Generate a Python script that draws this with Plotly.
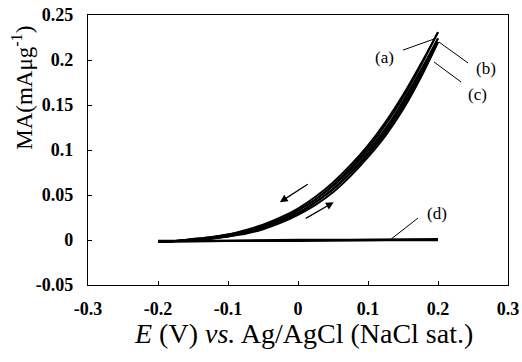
import plotly.graph_objects as go

# ---- data ----
E = [-0.2, -0.175, -0.15, -0.125, -0.1, -0.075, -0.05, -0.025, 0.0,
     0.025, 0.05, 0.075, 0.1, 0.125, 0.15, 0.175, 0.2]
a_fwd = [-0.002, -0.001, 0.000, 0.002, 0.005, 0.009, 0.015, 0.023, 0.033,
         0.045, 0.061, 0.080, 0.102, 0.128, 0.158, 0.193, 0.231]
a_rev = [-0.002, -0.001, 0.001, 0.003, 0.006, 0.011, 0.017, 0.025, 0.035,
         0.048, 0.064, 0.083, 0.105, 0.131, 0.161, 0.195, 0.231]
b_fwd = [-0.002, -0.001, 0.000, 0.002, 0.004, 0.008, 0.014, 0.021, 0.030,
         0.042, 0.057, 0.075, 0.096, 0.121, 0.151, 0.185, 0.224]
b_rev = [-0.002, -0.001, 0.001, 0.003, 0.006, 0.010, 0.016, 0.023, 0.033,
         0.045, 0.060, 0.078, 0.099, 0.124, 0.154, 0.188, 0.224]
c_fwd = [-0.002, -0.001, 0.000, 0.001, 0.004, 0.007, 0.012, 0.019, 0.028,
         0.039, 0.053, 0.071, 0.092, 0.116, 0.145, 0.180, 0.220]
c_rev = [-0.002, -0.001, 0.000, 0.002, 0.005, 0.009, 0.014, 0.021, 0.030,
         0.042, 0.056, 0.074, 0.095, 0.119, 0.148, 0.182, 0.220]
E_d = [-0.2, -0.1, 0.0, 0.1, 0.2]
d_fwd = [-0.002, -0.001, -0.001, 0.000, 0.000]
d_rev = [-0.001, -0.001, 0.000, 0.000, 0.001]

x_ticks = [-0.3, -0.2, -0.1, 0.0, 0.1, 0.2, 0.3]
x_ticktext = ["-0.3", "-0.2", "-0.1", "0", "0.1", "0.2", "0.3"]
y_ticks = [-0.05, 0.0, 0.05, 0.1, 0.15, 0.2, 0.25]
y_ticktext = ["-0.05", "0", "0.05", "0.1", "0.15", "0.2", "0.25"]

labels = ["(a)", "(b)", "(c)", "(d)"]

FONT = "Liberation Serif"

fig = go.Figure()
for ys in [c_fwd, c_rev, b_fwd, b_rev, a_fwd, a_rev]:
    fig.add_trace(go.Scatter(x=E, y=ys, mode="lines", line=dict(color="black", width=2.0, shape="spline"),
                             showlegend=False, hoverinfo="skip"))
for ys in [d_fwd, d_rev]:
    fig.add_trace(go.Scatter(x=E_d, y=ys, mode="lines", line=dict(color="black", width=2.4),
                             showlegend=False, hoverinfo="skip"))

ann = []
lab_pos = [(0.123, 0.203), (0.269, 0.191), (0.257, 0.162), (0.199, 0.029)]
for t, (lx, ly) in zip(labels, lab_pos):
    ann.append(dict(x=lx, y=ly, xref="x", yref="y", text=t, showarrow=False,
                    xanchor="center", yanchor="middle",
                    font=dict(family=FONT, size=17, color="black")))
ann.append(dict(x=-0.026, y=0.042, ax=0.016, ay=0.063, xref="x", yref="y", axref="x", ayref="y",
                text="", showarrow=True, arrowhead=2, arrowsize=1.2, arrowwidth=1.3, arrowcolor="black"))
ann.append(dict(x=0.051, y=0.042, ax=0.009, ay=0.023, xref="x", yref="y", axref="x", ayref="y",
                text="", showarrow=True, arrowhead=2, arrowsize=1.2, arrowwidth=1.3, arrowcolor="black"))
ann.append(dict(x=-0.155, y=0.73, xref="paper", yref="paper", text="MA(mAμg<sup>-1</sup>)",
                textangle=-90, showarrow=False, xanchor="center", yanchor="middle",
                font=dict(family=FONT, size=23, color="black")))
ann.append(dict(x=0.514, y=-0.178, xref="paper", yref="paper",
                text="<i>E</i> (V) <i>vs.</i> Ag/AgCl (NaCl sat.)",
                showarrow=False, xanchor="center", yanchor="middle",
                font=dict(family=FONT, size=28, color="black")))
fig.update_layout(annotations=ann)

leaders = [((0.150, 0.211), (0.1943, 0.2233)),
           ((0.2014, 0.220), (0.2429, 0.1967)),
           ((0.1943, 0.1978), (0.2329, 0.1756)),
           ((0.1314, 0.0), (0.1714, 0.0244))]
for (x0, y0), (x1, y1) in leaders:
    fig.add_shape(type="line", x0=x0, y0=y0, x1=x1, y1=y1, xref="x", yref="y",
                  line=dict(color="black", width=1))

axis_common = dict(showline=True, linecolor="black", linewidth=1.2, mirror=True,
                   ticks="inside", ticklen=4, tickcolor="black", showgrid=False, zeroline=False,
                   tickfont=dict(family=FONT, size=18, color="black"))
fig.update_xaxes(range=[-0.3, 0.3], tickvals=x_ticks,
                 ticktext=["<b>" + t + "</b>" for t in x_ticktext], ticklabelstandoff=7, **axis_common)
fig.update_yaxes(range=[-0.05, 0.25], tickvals=y_ticks,
                 ticktext=["<b>" + t + "</b>" for t in y_ticktext], ticklabelstandoff=10, **axis_common)

fig.update_layout(width=522, height=362, margin=dict(l=88, r=14, t=15, b=77, autoexpand=False),
                  plot_bgcolor="white", paper_bgcolor="white", showlegend=False,
                  font=dict(family=FONT))

fig.write_html("out.html", config={"displayModeBar": False},
               post_script="document.body.style.margin='0';document.body.style.overflow='hidden';")
